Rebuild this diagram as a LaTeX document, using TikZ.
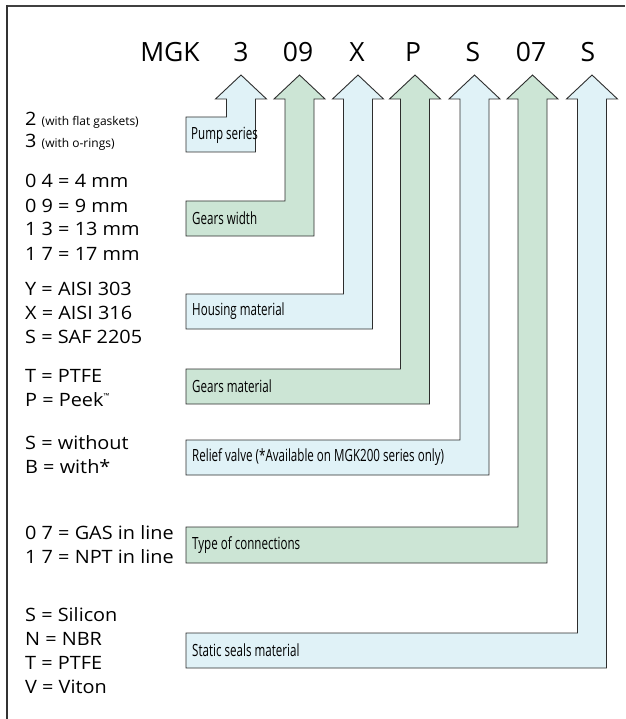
\documentclass[tikz,border=0pt]{standalone}
\usepackage{fontspec}
\setmainfont{Open Sans}
\newfontfamily\condfont[FakeStretch=0.69]{Open Sans}
\newfontfamily\leftfont[FakeStretch=1.08]{Open Sans}
\newfontfamily\smallfont{Open Sans}
\definecolor{lblue}{RGB}{224,242,247}
\definecolor{lgreen}{RGB}{204,229,213}
\definecolor{edge}{RGB}{45,45,45}
\tikzset{
  codearrow/.style={draw=edge, line width=0.9pt, line join=miter},
  head/.style={font=\fontsize{26.5}{28}\selectfont, anchor=base, inner sep=0pt},
  lefttxt/.style={font=\leftfont\fontsize{18.4}{20}\selectfont, anchor=base west, inner sep=0pt},
  boxlabel/.style={font=\condfont\fontsize{16.8}{18}\selectfont, anchor=west, inner sep=0pt},
}
\begin{document}
\begin{tikzpicture}[x=1pt,y=-1pt]
\useasboundingbox (0,0) rectangle (625,719);
% frame
\draw[line width=2pt, color=black!75] (6,6) -- (625,6);
\draw[line width=2.4pt, color=black!80] (7,5) -- (7,719);
% header
\node[head] (mgk) at (170,62) {MGK};
\node[head] (c1) at (241,62) {3};
\node[head] (c2) at (298,62) {09};
\node[head] (c3) at (357,62) {X};
\node[head] (c4) at (413,62) {P};
\node[head] (c5) at (473,62) {S};
\node[head] (c6) at (531,62) {07};
\node[head] (c7) at (588,62) {S};
% arrows
\foreach \cx/\t/\b/\c in {241/117/152/lblue, 299.5/201/236/lgreen, 358/294/329/lblue, 415/369/404/lgreen, 474.5/440/475/lblue, 532.5/527/563/lgreen, 592/633/668/lblue}{
  \filldraw[codearrow, fill=\c] (\cx,75) -- ({\cx+25.5},99) -- ({\cx+14.5},99) -- ({\cx+14.5},\b) -- (186,\b) -- (186,\t) -- ({\cx-14.5},\t) -- ({\cx-14.5},99) -- ({\cx-25.5},99) -- cycle;
}
% box labels
\node[boxlabel] (l1) at (191,135) {Pump series};
\node[boxlabel] (l2) at (192,218.5) {Gears width};
\node[boxlabel] (l3) at (192,311.5) {Housing material};
\node[boxlabel] (l4) at (192,386.5) {Gears material};
\node[boxlabel] (l5) at (192,457.5) {Relief valve (*Available on MGK200 series only)};
\node[boxlabel] (l6) at (192,545) {Type of connections};
\node[boxlabel] (l7) at (192,650.5) {Static seals material};
% left texts
\node[lefttxt] (a1) at (25,126) {2 {\smallfont\fontsize{12}{14}\selectfont (with flat gaskets)}};
\node[lefttxt] (a2) at (25,148) {3 {\smallfont\fontsize{12}{14}\selectfont (with o-rings)}};
\node[lefttxt] (b1) at (25,188) {0 4 = 4 mm};
\node[lefttxt] (b2) at (25,212) {0 9 = 9 mm};
\node[lefttxt] (b3) at (25,236) {1 3 = 13 mm};
\node[lefttxt] (b4) at (25,260) {1 7 = 17 mm};
\node[lefttxt] (d1) at (25,295) {Y = AISI 303};
\node[lefttxt] (d2) at (25,319) {X = AISI 316};
\node[lefttxt] (d3) at (25,343) {S = SAF 2205};
\node[lefttxt] (e1) at (25,382) {T = PTFE};
\node[lefttxt] (e2) at (25,406) {P = Peek\raisebox{0.75ex}{\fontsize{7}{7}\selectfont ™}};
\node[lefttxt] (f1) at (25,449) {S = without};
\node[lefttxt] (f2) at (25,473) {B = with*};
\node[lefttxt] (g1) at (25,539) {0 7 = GAS in line};
\node[lefttxt] (g2) at (25,563) {1 7 = NPT in line};
\node[lefttxt] (h1) at (25,621) {S = Silicon};
\node[lefttxt] (h2) at (25,645) {N = NBR};
\node[lefttxt] (h3) at (25,669) {T = PTFE};
\node[lefttxt] (h4) at (25,693) {V = Viton};
\end{tikzpicture}
\end{document}
